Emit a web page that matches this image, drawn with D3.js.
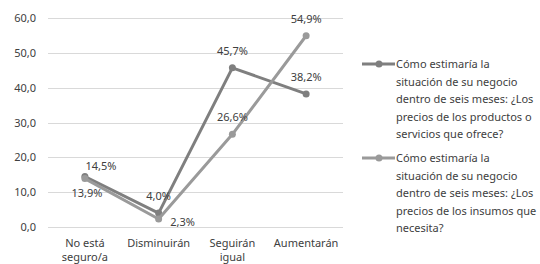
<!DOCTYPE html>
<html>
<head>
<meta charset="utf-8">
<script src="https://cdn.jsdelivr.net/npm/d3@7"></script>
<style>
  body { margin: 0; background: #fff; }
  svg text { font-family: "Noto Sans", "Open Sans", sans-serif; fill: #404040; }
</style>
</head>
<body>
<svg width="540" height="264"></svg>
<script>
const categories = [["No está", "seguro/a"], ["Disminuirán"], ["Seguirán", "igual"], ["Aumentarán"]];
const productos = [14.5, 4.0, 45.7, 38.2];
const insumos = [13.9, 2.3, 26.6, 54.9];
const yTicks = [0, 10, 20, 30, 40, 50, 60];
const legendProductos = ["Cómo estimaría la", "situación de su negocio", "dentro de seis meses: ¿Los", "precios de los productos o", "servicios que ofrece?"];
const legendInsumos = ["Cómo estimaría la", "situación de su negocio", "dentro de seis meses: ¿Los", "precios de los insumos que", "necesita?"];
// where each data label sits relative to its point
const placeProductos = ["right", "above", "above", "above"];
const placeInsumos = ["below", "belowRight", "above", "above"];

var svg = d3.select("svg");
var fmt = (v) => v.toFixed(1).replace(".", ",");

var x = d3.scaleBand().domain(d3.range(categories.length)).range([48, 343]);
var y = d3.scaleLinear().domain([0, 60]).range([227, 18]);

var series = [
  { values: productos, color: "#7f7f7f", place: placeProductos, legend: legendProductos },
  { values: insumos, color: "#9a9a9a", place: placeInsumos, legend: legendInsumos }
];

// gridlines
svg.append("g")
  .selectAll("line")
  .data(yTicks)
  .enter()
  .append("line")
  .attr("x1", 48)
  .attr("x2", 343)
  .attr("y1", (d) => Math.round(y(d)) + 0.5)
  .attr("y2", (d) => Math.round(y(d)) + 0.5)
  .attr("stroke", "#d9d9d9");

// y axis labels
svg.append("g")
  .selectAll("text")
  .data(yTicks)
  .enter()
  .append("text")
  .attr("x", 36)
  .attr("y", (d) => y(d) + 4)
  .attr("text-anchor", "end")
  .attr("font-size", 11)
  .text(fmt);

// x axis labels
var xl = svg.append("g")
  .selectAll("text")
  .data(categories)
  .enter()
  .append("text")
  .attr("text-anchor", "middle")
  .attr("font-size", 11)
  .attr("x", (d, i) => x(i) + x.bandwidth() / 2)
  .attr("y", 247);
xl.selectAll("tspan")
  .data((d) => d)
  .enter()
  .append("tspan")
  .attr("x", function () { return d3.select(this.parentNode).attr("x"); })
  .attr("dy", (d, i) => (i === 0 ? 0 : 14))
  .text((d) => d);

var line = d3.line()
  .x((d, i) => x(i) + x.bandwidth() / 2)
  .y((d) => y(d));

var offsets = {
  above: [0, -13],
  right: [16, -6],
  below: [2, 18],
  belowRight: [24, 7]
};

series.forEach((s) => {
  var g = svg.append("g");
  g.append("path")
    .datum(s.values)
    .attr("d", line)
    .attr("fill", "none")
    .attr("stroke", s.color)
    .attr("stroke-width", 3)
    .attr("stroke-linejoin", "round");
  g.selectAll("circle")
    .data(s.values)
    .enter()
    .append("circle")
    .attr("cx", (d, i) => x(i) + x.bandwidth() / 2)
    .attr("cy", (d) => y(d))
    .attr("r", 3.5)
    .attr("fill", s.color);
});

// data labels drawn on top
series.forEach((s) => {
  svg.append("g")
    .selectAll("text")
    .data(s.values)
    .enter()
    .append("text")
    .attr("text-anchor", "middle")
    .attr("font-size", 11)
    .attr("x", (d, i) => x(i) + x.bandwidth() / 2 + offsets[s.place[i]][0])
    .attr("y", (d, i) => y(d) + offsets[s.place[i]][1])
    .text((d) => fmt(d) + "%");
});

// legend
series.forEach((s, k) => {
  var top = 64 + k * 94;
  var lg = svg.append("g");
  lg.append("line")
    .attr("x1", 362).attr("x2", 395)
    .attr("y1", top).attr("y2", top)
    .attr("stroke", s.color)
    .attr("stroke-width", 3);
  lg.append("circle")
    .attr("cx", 379).attr("cy", top).attr("r", 3.5)
    .attr("fill", s.color);
  lg.selectAll("text")
    .data(s.legend)
    .enter()
    .append("text")
    .attr("x", 396)
    .attr("y", (d, i) => top + 4 + i * 17.6)
    .attr("font-size", 11)
    .text((d) => d);
});
</script>
</body>
</html>
